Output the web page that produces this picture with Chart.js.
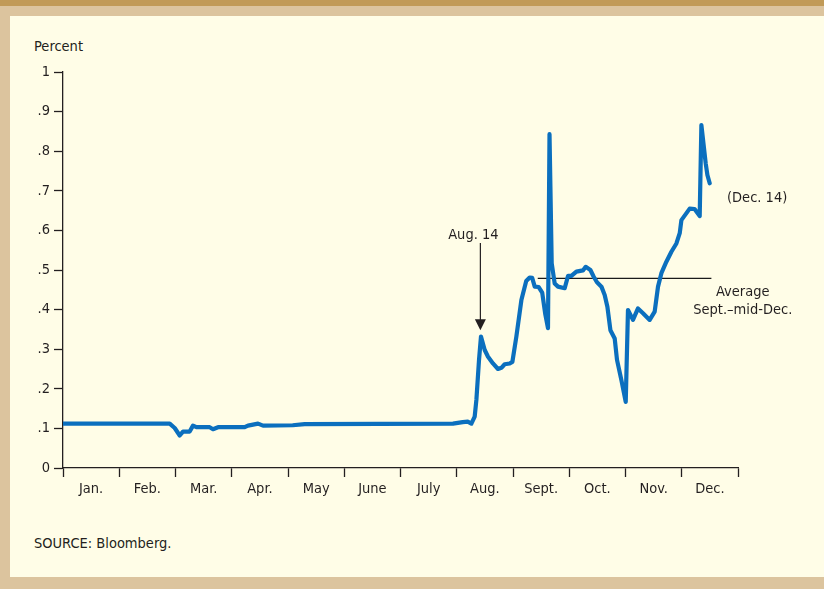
<!DOCTYPE html>
<html>
<head>
<meta charset="utf-8">
<script src="https://cdn.jsdelivr.net/npm/chart.js@4/dist/chart.umd.min.js"></script>
<style>
  html, body { margin: 0; padding: 0; }
  body { width: 824px; height: 589px; position: relative; overflow: hidden; background: #dcc49e;
         font-family: 'Liberation Sans Narrow', 'Arial Narrow', 'DejaVu Sans Condensed', sans-serif; }
  #band { position: absolute; left: 0; top: 0; width: 824px; height: 6px; background: #c19a57; }
  #panel { position: absolute; left: 10px; top: 16px; width: 814px; height: 561px; background: #fffde7; }
  canvas { position: absolute; left: 0; top: 0; }
  .txt { position: absolute; font-size: 14.5px; line-height: 18px; color: #231f20; white-space: nowrap; }
</style>
</head>
<body>
<div id="band"></div>
<div id="panel"></div>
<div class="txt" style="left:34px; top:37px;">Percent</div>
<div class="txt" style="left:34px; top:534px;">SOURCE: Bloomberg.</div>
<canvas id="c" width="824" height="589"></canvas>
<script>
// Month labels (x axis: 0 = Jan. 1, 12 = Dec. 31, fractional months)
const monthLabels = ['Jan.', 'Feb.', 'Mar.', 'Apr.', 'May', 'June', 'July', 'Aug.', 'Sept.', 'Oct.', 'Nov.', 'Dec.'];
// Y tick values
const yTicks = [0, 0.1, 0.2, 0.3, 0.4, 0.5, 0.6, 0.7, 0.8, 0.9, 1];

// Series: position in months, value in percent
const seriesMonth = [
  0, 1.897, 1.986, 2.075, 2.133, 2.252, 2.311, 2.372, 2.608, 2.667, 2.756, 3.230, 3.289, 3.467, 3.556,
  4.084, 4.297, 6.933, 7.106, 7.195, 7.260, 7.319, 7.349, 7.396, 7.431, 7.497, 7.556, 7.644, 7.733,
  7.794, 7.852, 7.941, 7.989, 8.060, 8.149, 8.235, 8.297, 8.341, 8.386, 8.457, 8.519, 8.572, 8.622,
  8.649, 8.688, 8.741, 8.800, 8.919, 8.978, 9.038, 9.127, 9.244, 9.292, 9.376, 9.435, 9.493, 9.572,
  9.630, 9.678, 9.732, 9.808, 9.849, 9.927, 10.004, 10.044, 10.133, 10.222, 10.311, 10.430, 10.519,
  10.578, 10.638, 10.727, 10.816, 10.905, 10.964, 10.994, 11.141, 11.228, 11.319, 11.349, 11.426,
  11.456, 11.497
];
const seriesValue = [
  0.112, 0.112, 0.101, 0.082, 0.092, 0.092, 0.107, 0.103, 0.103, 0.098, 0.103, 0.103, 0.107, 0.112, 0.107,
  0.108, 0.111, 0.112, 0.116, 0.117, 0.112, 0.130, 0.172, 0.273, 0.332, 0.298, 0.281, 0.264, 0.250,
  0.253, 0.262, 0.264, 0.268, 0.332, 0.424, 0.472, 0.481, 0.480, 0.458, 0.457, 0.443, 0.390, 0.353,
  0.843, 0.517, 0.466, 0.458, 0.454, 0.485, 0.485, 0.496, 0.499, 0.508, 0.500, 0.483, 0.469, 0.458,
  0.437, 0.407, 0.348, 0.327, 0.273, 0.222, 0.167, 0.399, 0.374, 0.403, 0.391, 0.374, 0.395,
  0.458, 0.492, 0.521, 0.546, 0.567, 0.593, 0.626, 0.655, 0.654, 0.636, 0.866, 0.769,
  0.740, 0.719
];
// Average Sept.–mid-Dec.
const averageMonth = [8.44, 11.527];
const averageValue = [0.479, 0.479];

const FONT = "'Liberation Sans Narrow', 'Arial Narrow', 'DejaVu Sans Condensed', sans-serif";
const FSIZE = 14.5;
const INK = '#231f20';

const annotations = {
  id: 'annotations',
  afterDatasetsDraw(chart) {
    const ctx = chart.ctx, xs = chart.scales.x, ys = chart.scales.y;
    ctx.save();
    ctx.fillStyle = INK; ctx.strokeStyle = INK;
    ctx.font = FSIZE + 'px ' + FONT;
    ctx.textAlign = 'center'; ctx.textBaseline = 'middle';
    // Aug. 14 arrow
    const ax = xs.getPixelForValue(7.42);
    const yTop = ys.getPixelForValue(0.568), yTip = ys.getPixelForValue(0.348);
    ctx.fillText('Aug. 14', ax - 7, ys.getPixelForValue(0.588));
    ctx.lineWidth = 1.2;
    ctx.beginPath(); ctx.moveTo(ax, yTop); ctx.lineTo(ax, yTip - 8); ctx.stroke();
    ctx.beginPath(); ctx.moveTo(ax, yTip); ctx.lineTo(ax - 5.5, yTip - 11); ctx.lineTo(ax + 5.5, yTip - 11); ctx.closePath(); ctx.fill();
    // (Dec. 14)
    ctx.fillText('(Dec. 14)', xs.getPixelForValue(12.34), ys.getPixelForValue(0.682));
    // Average label
    const avx = xs.getPixelForValue(12.085);
    ctx.fillText('Average', avx, ys.getPixelForValue(0.444));
    ctx.fillText('Sept.\u2013mid-Dec.', avx, ys.getPixelForValue(0.399));
    ctx.restore();
  }
};

const labelTicks = [];
for (let i = 0; i <= 12; i++) labelTicks.push(i);
for (let i = 0; i < 12; i++) labelTicks.push(i + 0.5);
labelTicks.sort((a, b) => a - b);

new Chart(document.getElementById('c'), {
  type: 'line',
  data: {
    datasets: [
      {
        data: seriesMonth.map((m, i) => ({ x: m, y: seriesValue[i] })),
        borderColor: '#0b6fbe', borderWidth: 4.2, pointRadius: 0, tension: 0,
        borderJoinStyle: 'round', borderCapStyle: 'round', fill: false
      },
      {
        data: averageMonth.map((m, i) => ({ x: m, y: averageValue[i] })),
        borderColor: '#1a1a1a', borderWidth: 1.2, pointRadius: 0, tension: 0, fill: false
      }
    ]
  },
  options: {
    responsive: false,
    animation: false,
    events: [],
    layout: { padding: { top: 72, right: 86, left: 0, bottom: 0 } },
    plugins: { legend: { display: false }, tooltip: { enabled: false } },
    scales: {
      x: {
        type: 'linear', min: 0, max: 12,
        afterBuildTicks: s => { s.ticks = labelTicks.map(v => ({ value: v })); },
        afterFit: s => { s.height = 121; },
        border: { display: true, color: INK, width: 1.3 },
        grid: {
          drawOnChartArea: false, drawTicks: true, tickLength: 9, tickWidth: 1.3,
          tickColor: c => (c.tick && Number.isInteger(c.tick.value)) ? INK : 'rgba(0,0,0,0)'
        },
        ticks: {
          autoSkip: false, maxRotation: 0, padding: 4, color: INK,
          font: { family: FONT, size: FSIZE },
          callback: v => Number.isInteger(v) ? '' : monthLabels[Math.floor(v)]
        }
      },
      y: {
        type: 'linear', min: 0, max: 1,
        afterBuildTicks: s => { s.ticks = yTicks.map(v => ({ value: v })); },
        afterFit: s => { s.width = 63; },
        border: { display: true, color: INK, width: 1.3 },
        grid: { drawOnChartArea: false, drawTicks: true, tickLength: 9, tickWidth: 1.3, tickColor: INK },
        ticks: {
          padding: 4, color: INK, font: { family: FONT, size: FSIZE },
          callback: v => v === 0 ? '0' : (v === 1 ? '1' : '.' + Math.round(v * 10))
        }
      }
    }
  },
  plugins: [annotations]
});
</script>
</body>
</html>
